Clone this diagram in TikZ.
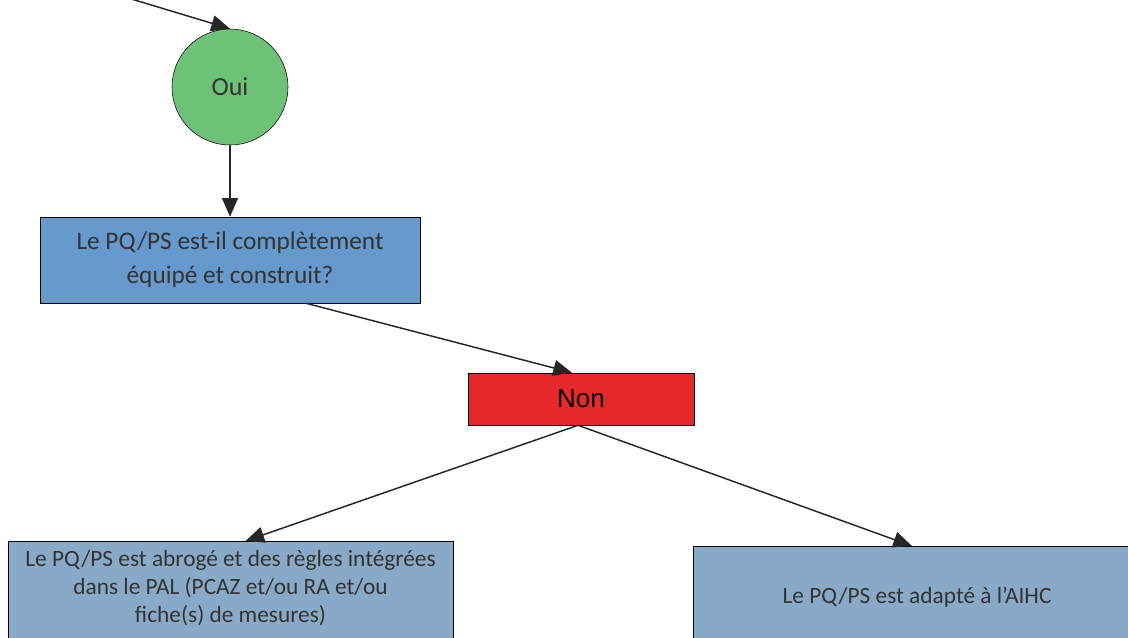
\documentclass[tikz,border=0pt]{standalone}
\usepackage{fontspec}
\setmainfont{Carlito}
\newfontfamily\nonfont{Liberation Sans}
\usetikzlibrary{arrows.meta,calc}
\definecolor{ouigreen}{RGB}{110,194,120}
\definecolor{qblue}{RGB}{102,153,204}
\definecolor{nonred}{RGB}{232,41,44}
\definecolor{resblue}{RGB}{136,170,200}
\definecolor{txtgray}{RGB}{51,51,51}
\begin{document}
\begin{tikzpicture}[x=0.75pt,y=-0.75pt,
		box/.style={draw, rectangle, inner sep=2pt, align=center, text=txtgray},
		link/.style={draw=black!85, line width=1.1pt, -{Triangle[length=14pt,width=12pt]}}]
		\clip (0,0) rectangle (1128,637);
		\node[draw, circle, fill=ouigreen, minimum size=87pt, inner sep=1pt, text=txtgray, font=\fontsize{19.5}{22}\selectfont] (oui) at (230,87) {Oui};
		\node[box, fill=qblue, minimum width=285pt, minimum height=64.5pt, font=\fontsize{19}{25.5}\selectfont] (question) at (230,260) {Le PQ/PS est-il complètement\\équipé et construit?};
		\node[draw, rectangle, fill=nonred, minimum width=169.5pt, minimum height=39pt, font=\nonfont\fontsize{19.5}{22}\selectfont] (non) at (581,399) {Non};
		\node[box, fill=resblue, minimum width=333.75pt, minimum height=101.25pt, anchor=north, font=\fontsize{17.5}{21}\selectfont] (abroge) at (230.5,541) {Le PQ/PS est abrogé et des règles intégrées\\dans le PAL (PCAZ et/ou RA et/ou\\fiche(s) de mesures)\\[13pt]};
		\node[box, fill=resblue, minimum width=336pt, minimum height=76.5pt, anchor=north, font=\fontsize{17.5}{21}\selectfont] (adapte) at (917,546) {Le PQ/PS est adapté à l’AIHC};
		\coordinate (start) at (128,-2);
		% connecteurs
		\draw[link] (start) -- (oui.north);
		\draw[link] (oui.south) -- (question.north);
		\draw[link] ($(question.south west)!0.7!(question.south east)$) -- ($(non.north)+(-9,0)$);
		\draw[link] ($(non.south)+(-3,0)$) -- ($(abroge.north)+(15,0)$);
		\draw[link] ($(non.south)+(-3,0)$) -- ($(adapte.north)+(-5,0)$);
\end{tikzpicture}
\end{document}
